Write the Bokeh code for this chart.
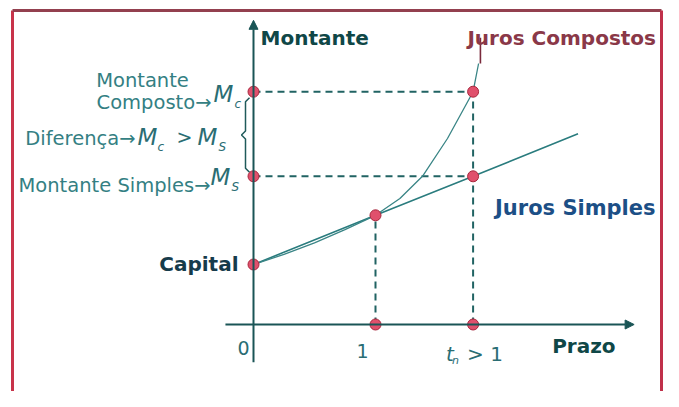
from bokeh.plotting import figure
from bokeh.models import Arrow, NormalHead, Range1d
from bokeh.core.properties import value
from bokeh.embed import file_html
from bokeh.resources import INLINE

# ---------------- data ----------------
capital = 100.0
t_one = 1.0
t_n = 1.8
m_one = 182.0          # both regimes meet at t = 1
m_simples = 247.0      # simple amount at t_n
m_composto = 388.0     # compound amount at t_n

simples_t = [0.0, 1.0, 1.8, 2.66]
simples_m = [100.0, 182.0, 247.0, 318.0]

composto_t = [0.0, 0.25, 0.5, 0.75, 1.0, 1.2, 1.385, 1.59, 1.8, 1.845]
composto_m = [100.0, 117.0, 136.0, 158.0, 182.0, 210.0, 247.0, 310.0, 388.0, 435.0]

leader_t = [1.86, 1.86]
leader_m = [435.0, 478.0]

marker_t = [0.0, 1.0, 1.8, 1.8, 0.0, 0.0, 1.0, 1.8]
marker_m = [100.0, 182.0, 247.0, 388.0, 388.0, 247.0, 0.0, 0.0]

axis_t = [-0.23, 3.12]
axis_m = [-63.0, 507.0]

# ---------------- scale (pixels per unit) ----------------
W, H = 663, 391
PX_T = 122.0      # px per unit of time
PX_M = 0.6        # px per unit of amount
ORIG_X, ORIG_Y = 253.0, 324.0   # origin inside the canvas

x0 = -ORIG_X / PX_T
x1 = (W - ORIG_X) / PX_T
y1 = ORIG_Y / PX_M
y0 = -(H - ORIG_Y) / PX_M


def off(t, m, dx, dy):
    """anchor (t, m) shifted by dx, dy screen pixels (dy positive = down)"""
    return t + dx / PX_T, m - dy / PX_M


p = figure(width=W, height=H, output_backend="svg", toolbar_location=None,
           x_axis_type=None, y_axis_type=None, min_border=0,
           x_range=Range1d(x0, x1), y_range=Range1d(y0, y1))
p.outline_line_color = None
p.background_fill_color = "white"
p.border_fill_color = "white"

# ---------------- frame border ----------------
bl, bt = off(x0, y1, 12, 10)
br, _ = off(x1, y1, -2, 0)
bb = y0 - 100
p.segment(x0=[bl, bl, br], y0=[bb, bt, bt], x1=[bl, br, br], y1=[bt, bt, bb],
          line_color=["#c8334a", "#93404f", "#c0304a"], line_width=3)

# ---------------- dashed guides ----------------
p.segment(x0=[0, 0, t_one, t_n], y0=[m_composto, m_simples, 0, 0],
          x1=[t_n, t_n, t_one, t_n], y1=[m_composto, m_simples, m_one, m_composto],
          line_color="#216363", line_width=2, line_dash="7 5")

# ---------------- axes with arrows ----------------
ax_col = "#1a5556"
p.add_layout(Arrow(end=NormalHead(size=9, fill_color=ax_col, line_color=ax_col),
                   x_start=0, y_start=axis_m[0], x_end=0, y_end=axis_m[1],
                   line_color=ax_col, line_width=2))
p.add_layout(Arrow(end=NormalHead(size=9, fill_color=ax_col, line_color=ax_col),
                   x_start=axis_t[0], y_start=0, x_end=axis_t[1], y_end=0,
                   line_color=ax_col, line_width=2))

# ---------------- brace ----------------
b_top = m_composto - 6 / PX_M
b_bot = m_simples + 4 / PX_M
b_mid = (b_top + b_bot) / 2
bx = [-4 / PX_T, -8 / PX_T, -8 / PX_T, -12 / PX_T, -8 / PX_T, -8 / PX_T, -4 / PX_T]
by = [b_top, b_top - 4 / PX_M, b_mid + 4 / PX_M, b_mid, b_mid - 4 / PX_M, b_bot + 4 / PX_M, b_bot]
p.line(bx, by, line_color="#1f5a5a", line_width=1.5)

# ---------------- curves ----------------
p.line(simples_t, simples_m, line_color="#2a7c7e", line_width=1.6)
p.line(composto_t, composto_m, line_color="#3a8586", line_width=1.3)
p.line(leader_t, leader_m, line_color="#7a2a3c", line_width=1.6)

p.scatter(marker_t, marker_m, size=11, fill_color="#e0506c", line_color="#a8283e", line_width=1)

# ---------------- texts ----------------
FONT = value("DejaVu Sans")


def label(t, m, dx, dy, txt, size, color, style="normal", align="left"):
    x, y = off(t, m, dx, dy)
    p.text(x=[x], y=[y], text=[txt], text_font=FONT, text_font_size=size,
           text_font_style=style, text_color=color, text_align=align,
           text_baseline="alphabetic")


dark = "#0f4747"
teal = "#347f83"
mteal = "#2a6d73"

label(0, axis_m[1], 7, 18, "Montante", "20px", dark, "bold")
label(axis_t[1], 0, -82, 21, "Prazo", "20px", dark, "bold")
label(0, capital, -15, -1, "Capital", "20px", "#163b4b", "bold", "right")
label(leader_t[1], leader_m[1], -13, 0, "Juros Compostos", "20px", "#8a3848", "bold")
label(simples_t[-1], simples_m[-1], -83, 74, "Juros Simples", "21px", "#1c4f86", "bold")

label(0, 0, -10, 23, "0", "19px", mteal, "normal", "center")
label(t_one, 0, -13, 26, "1", "19px", mteal, "normal", "center")
label(t_n, 0, -27, 29, "t", "20px", mteal, "italic")
label(t_n, 0, -21, 36, "n", "11px", mteal, "italic")
label(t_n, 0, -6, 29, "> 1", "20px", mteal)

# Montante composto
label(0, m_composto, -111, -11, "Montante", "19.5px", teal, "normal", "center")
label(0, m_composto, -42, 11, "Composto\u2192", "19.5px", teal, "normal", "right")
label(0, m_composto, -40, 2, "M", "23px", mteal, "italic")
label(0, m_composto, -19, 12, "c", "12px", mteal, "italic")

# Diferença
label(0, m_simples, -118, -38, "Diferen\u00e7a\u2192", "19.5px", teal, "normal", "right")
label(0, m_simples, -116, -39, "M", "23px", mteal, "italic")
label(0, m_simples, -96, -29, "c", "12px", mteal, "italic")
label(0, m_simples, -77, -39, ">", "19px", mteal)
label(0, m_simples, -56, -39, "M", "23px", mteal, "italic")
label(0, m_simples, -35, -29, "S", "12px", mteal, "italic")

# Montante simples
label(0, m_simples, -43, 9, "Montante Simples\u2192", "19.5px", teal, "normal", "right")
label(0, m_simples, -43, 1, "M", "23px", mteal, "italic")
label(0, m_simples, -22, 11, "S", "12px", mteal, "italic")

open("out.html", "w").write(file_html(p, INLINE))
